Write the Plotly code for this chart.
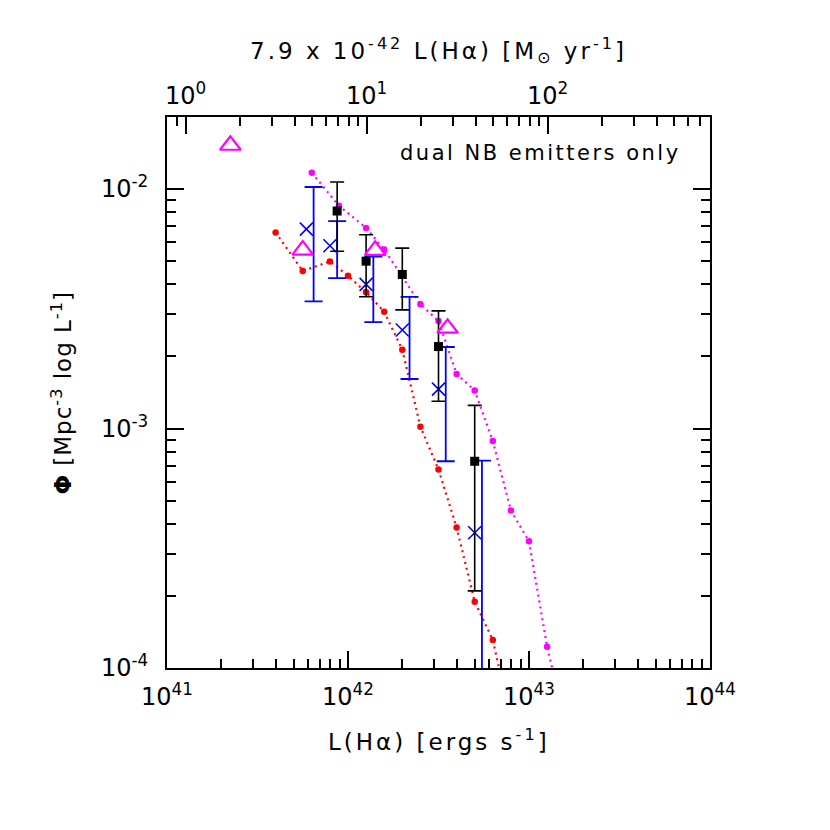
import numpy as np
import plotly.graph_objects as go

# ---------------- data (log10 values) ----------------
# magenta dotted curve with filled dots
mag_logL = [41.80, 41.95, 42.10, 42.20, 42.40, 42.50, 42.60, 42.70, 42.80, 42.90, 43.00, 43.10, 43.20]
mag_logPhi = [-1.932, -2.070, -2.162, -2.252, -2.481, -2.551, -2.772, -2.841, -3.052, -3.342, -3.471, -3.911, -4.23]

# red dotted curve with filled dots
red_logL = [41.60, 41.75, 41.90, 42.00, 42.10, 42.20, 42.30, 42.40, 42.50, 42.60, 42.70, 42.80, 42.90]
red_logPhi = [-2.181, -2.342, -2.302, -2.362, -2.431, -2.512, -2.671, -2.992, -3.171, -3.413, -3.723, -3.883, -4.22]

# black filled squares with symmetric errors
blk_logL = [41.94, 42.10, 42.30, 42.50, 42.70]
blk_phi = [8.1e-3, 5.0e-3, 4.4e-3, 2.2e-3, 7.3e-4]
blk_err = [2.6e-3, 1.45e-3, 1.27e-3, 0.90e-3, 0.52e-3]

# blue crosses with symmetric errors (error bars drawn slightly offset)
blu_logL = [41.77, 41.90, 42.10, 42.30, 42.50, 42.70]
blu_phi = [6.8e-3, 5.8e-3, 4.0e-3, 2.58e-3, 1.46e-3, 3.67e-4]
blu_err = [3.4e-3, 1.55e-3, 1.22e-3, 0.97e-3, 0.73e-3, 3.67e-4]

# magenta open triangles
tri_logL = [41.35, 41.75, 42.15, 42.55]
tri_logPhi = [-1.817, -2.255, -2.256, -2.581]

# axes
x_range_log = [41, 44]
y_range_log = [-4, np.log10(0.02)]
x_tickvals = [1e41, 1e42, 1e43, 1e44]
x_ticktext = ["10<sup>41</sup>", "10<sup>42</sup>", "10<sup>43</sup>", "10<sup>44</sup>"]
y_tickvals = [1e-4, 1e-3, 1e-2]
y_ticktext = ["10<sup>-4</sup>", "10<sup>-3</sup>", "10<sup>-2</sup>"]
sfr_factor = 7.9e-42
sfr_tickvals = [1, 10, 100]
sfr_ticktext = ["10<sup>0</sup>", "10<sup>1</sup>", "10<sup>2</sup>"]

err_offset_dex = 0.04  # horizontal offset of blue error bars

FONT = "DejaVu Sans"
MAG = "#FF00FF"
RED = "#FF0000"
BLUE = "#0000FF"


def p10(a):
    return [10 ** v for v in a]


def spaced(s, px):
    return '<span style="letter-spacing:%spx">%s</span>' % (px, s)


fig = go.Figure()

fig.add_trace(go.Scatter(
    x=p10(mag_logL), y=p10(mag_logPhi), mode="lines+markers",
    line=dict(color=MAG, width=2.2, dash="2px,4px"),
    marker=dict(color=MAG, size=6.5, symbol="circle"),
    showlegend=False, cliponaxis=True))

fig.add_trace(go.Scatter(
    x=p10(red_logL), y=p10(red_logPhi), mode="lines+markers",
    line=dict(color=RED, width=2.2, dash="2px,4px"),
    marker=dict(color=RED, size=6.5, symbol="circle"),
    showlegend=False, cliponaxis=True))

# blue error bars (offset)
fig.add_trace(go.Scatter(
    x=[10 ** (v + err_offset_dex) for v in blu_logL], y=blu_phi, mode="markers",
    marker=dict(size=0.1, color="rgba(0,0,0,0)"),
    error_y=dict(type="data", array=blu_err, symmetric=True, color=BLUE,
                 thickness=1.8, width=9),
    showlegend=False, cliponaxis=True))

# blue crosses
fig.add_trace(go.Scatter(
    x=p10(blu_logL), y=blu_phi, mode="markers",
    marker=dict(symbol="x-thin-open", size=13, color=BLUE,
                line=dict(color=BLUE, width=1.6)),
    showlegend=False, cliponaxis=True))

# black squares
fig.add_trace(go.Scatter(
    x=p10(blk_logL), y=blk_phi, mode="markers",
    marker=dict(symbol="square", size=9, color="black"),
    error_y=dict(type="data", array=blk_err, symmetric=True, color="black",
                 thickness=1.6, width=7),
    showlegend=False, cliponaxis=True))

# open triangles
fig.add_trace(go.Scatter(
    x=p10(tri_logL), y=p10(tri_logPhi), mode="markers",
    marker=dict(symbol="triangle-up-open", size=18, color=MAG,
                line=dict(color=MAG, width=2.2)),
    showlegend=False, cliponaxis=False))

# invisible trace registering the top (SFR) axis
fig.add_trace(go.Scatter(
    x=sfr_tickvals, y=[None] * len(sfr_tickvals), xaxis="x2", yaxis="y",
    mode="markers", showlegend=False, hoverinfo="skip"))

tickfont = dict(family=FONT, size=24, color="black")
minor = dict(ticks="inside", ticklen=9, tickwidth=1.5, tickcolor="black",
             dtick="D1", showgrid=False)

fig.update_layout(
    width=822, height=822,
    margin=dict(l=159, r=120, t=109, b=162),
    paper_bgcolor="white", plot_bgcolor="white",
    font=dict(family=FONT, color="black"),
    xaxis=dict(
        type="log", range=x_range_log, showgrid=False, zeroline=False,
        showline=True, linecolor="black", linewidth=2, mirror=False,
        ticks="inside", ticklen=17, tickwidth=2, tickcolor="black",
        tickvals=x_tickvals, ticktext=x_ticktext, tickfont=tickfont,
        ticklabelstandoff=6, minor=minor,
    ),
    xaxis2=dict(
        type="log", overlaying="x", side="top", anchor="y",
        range=[np.log10(sfr_factor * 10 ** x_range_log[0]),
               np.log10(sfr_factor * 10 ** x_range_log[1])],
        showgrid=False, zeroline=False,
        showline=True, linecolor="black", linewidth=2,
        ticks="inside", ticklen=17, tickwidth=2, tickcolor="black",
        tickvals=sfr_tickvals, ticktext=sfr_ticktext, tickfont=tickfont,
        ticklabelstandoff=1, minor=minor,
    ),
    yaxis=dict(
        type="log", range=y_range_log, showgrid=False, zeroline=False,
        showline=True, linecolor="black", linewidth=2, mirror="ticks",
        ticks="inside", ticklen=17, tickwidth=2, tickcolor="black",
        tickvals=y_tickvals, ticktext=y_ticktext, tickfont=tickfont,
        ticklabelstandoff=12, minor=minor,
    ),
    annotations=[
        dict(text=spaced("L(Hα) [ergs s<sup>-1</sup>]", 3), xref="paper", yref="paper",
             x=0.5, y=-0.130, xanchor="center", yanchor="middle",
             showarrow=False, font=dict(family=FONT, size=23, color="black")),
        dict(text=spaced("7.9 x 10<sup>-42</sup> L(Hα) [M<sub>⊙</sub> yr<sup>-1</sup>]", 3),
             xref="paper", yref="paper", x=0.5, y=1.120,
             xanchor="center", yanchor="middle", showarrow=False,
             font=dict(family=FONT, size=23, color="black")),
        dict(text=spaced("<b>Φ</b> [Mpc<sup>-3</sup> log L<sup>-1</sup>]", 1),
             xref="paper", yref="paper", x=-0.195, y=0.5, textangle=-90,
             xanchor="center", yanchor="middle", showarrow=False,
             font=dict(family=FONT, size=23, color="black")),
        dict(text=spaced("dual NB emitters only", 2.5), xref="paper", yref="paper",
             x=0.950, y=0.935, xanchor="right", yanchor="middle",
             showarrow=False, font=dict(family=FONT, size=21, color="black")),
    ],
)

fig.write_html("out.html")
